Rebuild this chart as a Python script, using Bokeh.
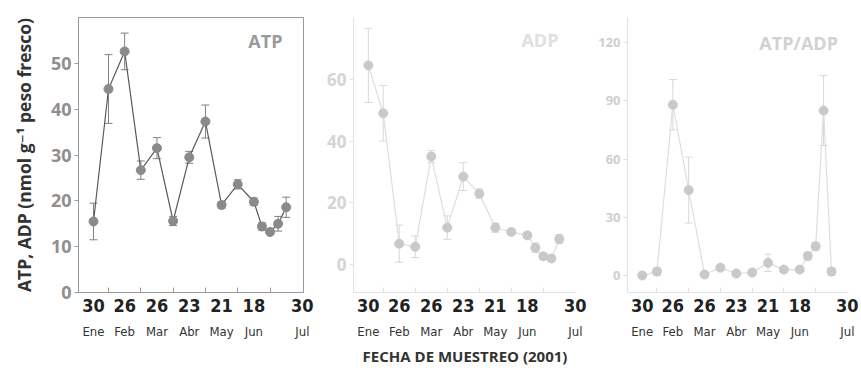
from bokeh.plotting import figure
from bokeh.layouts import row
from bokeh.models import (ColumnDataSource, Whisker, TeeHead, FixedTicker,
                          LinearAxis, Range1d, Label)
from bokeh.embed import file_html
from bokeh.resources import INLINE

# sampling dates (day of year, 2001)
days = [30, 43, 57, 71, 85, 99, 113, 127, 141, 155, 169, 176, 183, 190, 197]
atp = [15.5, 44.4, 52.6, 26.7, 31.5, 15.6, 29.5, 37.3, 19.1, 23.6, 19.8, 14.4, 13.2, 15.0, 18.6]
atp_err = [4.0, 7.5, 4.0, 2.0, 2.3, 1.0, 1.3, 3.6, 0.7, 1.0, 0.8, 0.8, 0.5, 1.6, 2.2]
adp = [64.5, 49.0, 6.8, 5.8, 35.0, 12.0, 28.5, 23.0, 12.0, 10.6, 9.5, 5.5, 2.7, 2.0, 8.3]
adp_err = [12, 9, 6, 3.5, 2, 3.8, 4.5, 1.5, 1.5, 1, 1, 1.5, 1, 1, 1.5]
ratio = [0, 2, 88, 44, 0.5, 4, 1, 1.5, 6.5, 3, 3, 10, 15, 85, 2]
ratio_err = [1, 2, 13, 17, 1, 1.5, 1, 1, 4.5, 1, 1, 2, 2, 18, 2]

label_days = [30, 57, 85, 113, 141, 169, 211]
label_day_text = ["30", "26", "26", "23", "21", "18", "30"]
label_months = ["Ene", "Feb", "Mar", "Abr", "May", "Jun", "Jul"]
tick_days = [43, 71, 99, 127, 155, 183]

NARROW = "Liberation Sans Narrow, DejaVu Sans Condensed, sans-serif"
BOLD = "Open Sans, DejaVu Sans, sans-serif"


def panel(values, errs, title, width, left, right, yr, yticks,
          mark, line, err, axis_col, tick_col, title_col, title_pos,
          ytick_size, xlabel=None, ylabel=None, outline=None):
    p = figure(width=width, height=372, output_backend="svg",
               toolbar_location=None, x_range=Range1d(17, 212),
               y_range=Range1d(*yr), min_border_left=left,
               min_border_right=right, min_border_top=17,
               min_border_bottom=80, background_fill_color="white",
               border_fill_color="white")
    p.grid.visible = False
    p.outline_line_color = outline
    src = ColumnDataSource(dict(x=days, y=values,
                                lo=[v - e for v, e in zip(values, errs)],
                                hi=[v + e for v, e in zip(values, errs)]))
    p.add_layout(Whisker(source=src, base="x", lower="lo", upper="hi",
                         line_color=err, line_width=1,
                         upper_head=TeeHead(size=8, line_color=err),
                         lower_head=TeeHead(size=8, line_color=err)))
    p.line("x", "y", source=src, line_color=line, line_width=1.2)
    p.scatter("x", "y", source=src, size=9, fill_color=mark,
              line_color=mark)

    # y axis
    ya = p.yaxis[0]
    ya.ticker = FixedTicker(ticks=yticks)
    ya.axis_line_color = axis_col
    ya.major_tick_line_color = axis_col
    ya.major_tick_out = 4
    ya.major_tick_in = 0
    ya.minor_tick_line_color = None
    ya.major_label_text_color = tick_col
    ya.major_label_text_font = BOLD
    ya.major_label_text_font_style = "bold"
    ya.major_label_text_font_size = ytick_size
    ya.major_label_standoff = 3
    if ylabel:
        ya.axis_label = ylabel
        ya.axis_label_text_font = BOLD
        ya.axis_label_text_font_style = "bold"
        ya.axis_label_text_font_size = "17.5px"
        ya.axis_label_text_color = "#333333"
        ya.axis_label_standoff = 12

    # x axis adjacent to frame: inward tick marks only
    xa = p.xaxis[0]
    xa.ticker = FixedTicker(ticks=tick_days)
    xa.axis_line_color = axis_col
    xa.major_tick_line_color = axis_col
    xa.major_tick_in = 5
    xa.major_tick_out = 0
    xa.minor_tick_line_color = None
    xa.major_label_text_font_size = "0px"
    xa.major_label_standoff = 0
    xa.major_label_overrides = {t: "" for t in tick_days}

    # day numbers
    da = LinearAxis(ticker=FixedTicker(ticks=label_days),
                    major_label_overrides=dict(zip(label_days, label_day_text)))
    da.axis_line_color = None
    da.major_tick_line_color = None
    da.minor_tick_line_color = None
    da.major_label_standoff = 0
    da.major_label_text_font = NARROW
    da.major_label_text_font_style = "bold"
    da.major_label_text_font_size = "18px"
    da.major_label_text_color = "#222222"
    p.add_layout(da, "below")

    # month names
    ma = LinearAxis(ticker=FixedTicker(ticks=label_days),
                    major_label_overrides=dict(zip(label_days, label_months)))
    ma.axis_line_color = None
    ma.major_tick_line_color = None
    ma.minor_tick_line_color = None
    ma.major_label_standoff = 3
    ma.major_label_text_font = NARROW
    ma.major_label_text_font_size = "13px"
    ma.major_label_text_color = "#333333"
    if xlabel:
        ma.axis_label = xlabel
        ma.axis_label_text_font = BOLD
        ma.axis_label_text_font_style = "bold"
        ma.axis_label_text_font_size = "15px"
        ma.axis_label_text_color = "#333333"
        ma.axis_label_standoff = 4
    p.add_layout(ma, "below")

    p.add_layout(Label(x=title_pos[0], y=title_pos[1], text=title,
                       text_align="center", text_baseline="middle",
                       text_font=BOLD, text_font_style="bold",
                       text_font_size="18px", text_color=title_col))
    return p


p1 = panel(atp, atp_err, "ATP", 318, 78, 15, (0, 60), [0, 10, 20, 30, 40, 50],
           "#8a8a8a", "#5a5a5a", "#808080", "#9a9a9a", "#8f8f8f", "#9a9a9a",
           (179, 54.8), "18px",
           ylabel="ATP, ADP (nmol g\u207b\u00b9 peso fresco)", outline="#9a9a9a")
p2 = panel(adp, adp_err, "ADP", 272, 35, 14, (-9, 80), [0, 20, 40, 60],
           "#c9c9c9", "#dedede", "#d8d8d8", "#e2e2e2", "#d4d4d4", "#e0e0e0",
           (180, 72.6), "17px", xlabel="FECHA DE MUESTREO (2001)")
p3 = panel(ratio, ratio_err, "ATP/ADP", 271, 37, 13, (-8.8, 133),
           [0, 30, 60, 90, 120],
           "#c9c9c9", "#dedede", "#d8d8d8", "#e2e2e2", "#cfcfcf", "#d2d2d2",
           (168, 120), "13px")

layout = row(p1, p2, p3)
open("out.html", "w").write(file_html(layout, INLINE))
